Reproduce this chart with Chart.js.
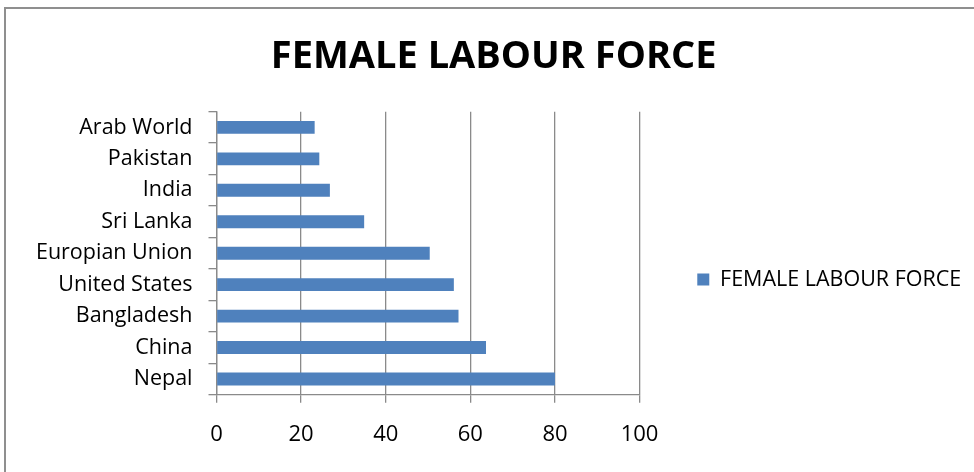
<!DOCTYPE html>
<html>
<head>
<meta charset="utf-8">
<script src="https://cdn.jsdelivr.net/npm/chart.js@4/dist/chart.umd.min.js"></script>
<style>
  html, body { margin: 0; padding: 0; background: #fff; }
  #frame { position: absolute; left: 4px; top: 7px; width: 990px; height: 500px; border: 2px solid #8f8f8f; box-sizing: border-box; }
  #wrap { position: absolute; left: 0; top: 0; width: 974px; height: 472px; }
</style>
</head>
<body>
<div id="frame"></div>
<div id="wrap"><canvas id="labourChart" width="974" height="472"></canvas></div>
<script>
const countries = ['Arab World', 'Pakistan', 'India', 'Sri Lanka', 'Europian Union', 'United States', 'Bangladesh', 'China', 'Nepal']
const femaleLabour = [23.2, 24.3, 26.8, 34.9, 50.4, 56.1, 57.2, 63.7, 80]
const seriesName = 'FEMALE LABOUR FORCE'
const xMin = 0
const xMax = 100
const xStep = 20

const gridGrey = '#8a8a8a'
const barBlue = '#4f81bd'
const fontFamily = "'Open Sans', 'Noto Sans', sans-serif"

const labourChart = new Chart(document.getElementById('labourChart'), {
  type: 'bar',
  data: {
    labels: countries,
    datasets: [{
      label: seriesName,
      data: femaleLabour,
      backgroundColor: barBlue,
      borderWidth: 0,
      barPercentage: 0.41,
      categoryPercentage: 1
    }]
  },
  options: {
    indexAxis: 'y',
    responsive: false,
    animation: false,
    layout: { padding: { left: 16, right: 2.7, top: 0, bottom: 0 } },
    plugins: {
      title: {
        display: true,
        text: 'FEMALE LABOUR FORCE',
        color: '#000',
        font: { family: fontFamily, size: 38, weight: 'bold' },
        padding: { top: 34.6, bottom: 31.5 }
      },
      legend: {
        position: 'right',
        align: 'center',
        maxWidth: 340,
        // empty title only pushes the legend item down to where the reference has it
        title: { display: true, text: '', font: { size: 10 }, padding: { top: 75, bottom: 0 } },
        labels: {
          boxWidth: 12,
          boxHeight: 12,
          padding: 57.7,
          color: '#000',
          font: { family: fontFamily, size: 21.5 }
        }
      },
      tooltip: { enabled: false }
    },
    scales: {
      x: {
        min: xMin,
        max: xMax,
        ticks: { stepSize: xStep, color: '#000', font: { family: fontFamily, size: 22 }, padding: 19 },
        grid: { color: gridGrey, lineWidth: 1.3, tickLength: 8 },
        border: { color: gridGrey, width: 1.3 },
        afterFit: function (scale) { scale.height = 77.3 }
      },
      y: {
        ticks: { color: '#000', font: { family: fontFamily, size: 21.5 }, padding: 16 },
        grid: { drawOnChartArea: false, drawTicks: true, tickLength: 8, color: gridGrey, lineWidth: 1.3, offset: true },
        border: { color: gridGrey, width: 1.3 },
        afterFit: function (scale) { scale.width = 200.5 }
      }
    }
  }
})
</script>
</body>
</html>
